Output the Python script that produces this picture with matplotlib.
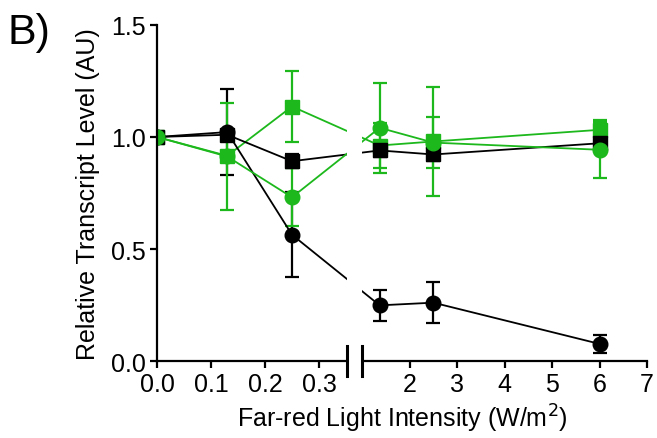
import matplotlib
matplotlib.use("Agg")
import matplotlib.pyplot as plt
import matplotlib.transforms as mtransforms
from matplotlib.patches import Rectangle
import numpy as np

plt.rcParams['font.family'] = ['Liberation Sans', 'DejaVu Sans']

# light intensities (W/m2)
x = [0.0, 0.13, 0.25, 1.37, 2.5, 6.0]

black_circle = [1.0, 1.022, 0.564, 0.249, 0.261, 0.077]
black_circle_err = [0.0, 0.19, 0.19, 0.07, 0.09, 0.04]
black_square = [1.0, 1.01, 0.892, 0.94, 0.922, 0.972]
black_square_err = [0.0, 0.02, 0.03, 0.03, 0.03, 0.03]
green_circle = [1.0, 0.913, 0.731, 1.041, 0.975, 0.943]
green_circle_err = [0.0, 0.24, 0.13, 0.20, 0.115, 0.125]
green_square = [1.0, 0.916, 1.136, 0.962, 0.98, 1.032]
green_square_err = [0.0, 0.02, 0.16, 0.10, 0.245, 0.045]

xticks = [0.0, 0.1, 0.2, 0.3, 2, 3, 4, 5, 6, 7]
xticklabels = ['0.0', '0.1', '0.2', '0.3', '2', '3', '4', '5', '6', '7']

# broken x axis: 0..XB0 on the left part, XB1..7 on the right part
XB0, XB1 = 0.352, 1.0
W0, GAP, SLOPE = 190.0, 15.0, 47.5


def fwd(v):
    v = np.asarray(v, dtype=float)
    return np.where(v <= XB0, v / XB0 * W0,
                    np.where(v >= XB1, W0 + GAP + (v - XB1) * SLOPE,
                             W0 + (v - XB0) / (XB1 - XB0) * GAP))


def inv(u):
    u = np.asarray(u, dtype=float)
    return np.where(u <= W0, u / W0 * XB0,
                    np.where(u >= W0 + GAP, XB1 + (u - W0 - GAP) / SLOPE,
                             XB0 + (u - W0) / GAP * (XB1 - XB0)))


green = '#1cb81c'
fig = plt.figure(figsize=(6.57, 4.39), dpi=100)
ax = fig.add_axes([0.239, 0.175, 0.746, 0.766])
ax.set_xscale('function', functions=(fwd, inv))

style = dict(lw=1.3, elinewidth=1.6, capsize=5, capthick=1.6)
ax.errorbar(x, green_square, yerr=green_square_err, color=green, marker='s', ms=9.5, **style)
ax.errorbar(x, black_square, yerr=black_square_err, color='black', marker='s', ms=9.5, **style)
ax.errorbar(x, black_circle, yerr=black_circle_err, color='black', marker='o', ms=10.5, **style)
ax.errorbar(x, green_circle, yerr=green_circle_err, color=green, marker='o', ms=10.5, **style)

ax.set_xlim(0, 7)
ax.set_ylim(0, 1.5)
ax.set_xticks(xticks)
ax.set_xticklabels(xticklabels)
ax.set_yticks([0.0, 0.5, 1.0, 1.5])
ax.set_yticklabels(['0.0', '0.5', '1.0', '1.5'])
ax.minorticks_off()
for s in ['top', 'right']:
    ax.spines[s].set_visible(False)
for s in ['left', 'bottom']:
    ax.spines[s].set_linewidth(1.6)
ax.tick_params(labelsize=18, width=1.6, length=5, direction='out', pad=3)

# break in the axis
trans = mtransforms.blended_transform_factory(ax.transData, ax.transAxes)
ax.add_patch(Rectangle((XB0, -0.02), XB1 - XB0, 1.05, transform=trans,
                       facecolor='white', edgecolor='none', zorder=5, clip_on=False))
for xb in (XB0, XB1):
    ax.plot([xb, xb], [-0.045, 0.045], transform=trans, color='black', lw=2.2,
            zorder=6, clip_on=False)

ax.set_xlabel('Far-red Light Intensity (W/m$^2$)', fontsize=18, labelpad=4)
ax.set_ylabel('Relative Transcript Level (AU)', fontsize=18, labelpad=8)
fig.text(0.012, 0.97, 'B)', fontsize=31, va='top', ha='left')

plt.savefig('out.png', dpi=100)
